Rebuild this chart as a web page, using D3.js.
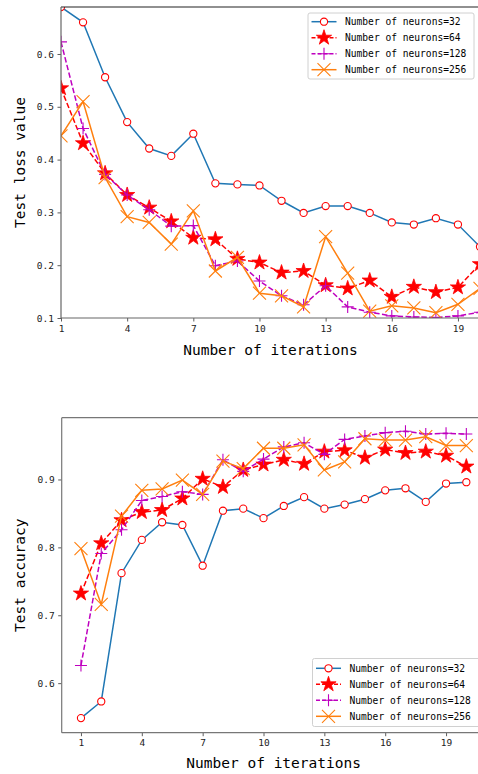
<!DOCTYPE html>
<html>
<head>
<meta charset="utf-8">
<script src="https://cdn.jsdelivr.net/npm/d3@7"></script>
<style>
html,body{margin:0;padding:0;background:#fff;}
svg{display:block;}
</style>
</head>
<body>
<svg id="chart" width="478" height="774"></svg>
<script>
// ---------------- DATA ----------------
const iterations = d3.range(1, 21);
const seriesNames = ["Number of neurons=32", "Number of neurons=64", "Number of neurons=128", "Number of neurons=256"];
const xTickValues = [1, 4, 7, 10, 13, 16, 19];

const loss32  = [0.689,0.660,0.556,0.471,0.421,0.407,0.449,0.355,0.353,0.351,0.322,0.299,0.312,0.312,0.299,0.281,0.277,0.289,0.277,0.235];
const loss64  = [0.535,0.431,0.374,0.333,0.309,0.283,0.252,0.249,0.212,0.205,0.186,0.189,0.162,0.156,0.171,0.140,0.159,0.149,0.158,0.202];
const loss128 = [0.623,0.459,0.372,0.333,0.305,0.274,0.275,0.199,0.208,0.170,0.142,0.125,0.161,0.121,0.111,0.104,0.102,0.101,0.104,0.111];
const loss256 = [0.445,0.510,0.366,0.292,0.281,0.240,0.303,0.189,0.215,0.147,0.142,0.121,0.254,0.185,0.113,0.123,0.119,0.110,0.126,0.156];
const lossTicks = [0.1, 0.2, 0.3, 0.4, 0.5, 0.6];

const acc32  = [0.5485,0.573,0.762,0.811,0.837,0.833,0.773,0.854,0.857,0.843,0.861,0.874,0.857,0.863,0.871,0.884,0.887,0.867,0.894,0.896];
const acc64  = [0.732,0.806,0.840,0.852,0.855,0.872,0.901,0.889,0.914,0.922,0.929,0.923,0.941,0.943,0.932,0.944,0.939,0.941,0.935,0.919];
const acc128 = [0.626,0.791,0.826,0.869,0.875,0.882,0.878,0.929,0.912,0.930,0.948,0.954,0.937,0.959,0.964,0.969,0.971,0.967,0.968,0.967];
const acc256 = [0.798,0.716,0.846,0.884,0.886,0.899,0.878,0.927,0.916,0.946,0.946,0.951,0.914,0.926,0.960,0.958,0.958,0.963,0.950,0.950];
const accTicks = [0.6, 0.7, 0.8, 0.9];

// ---------------- STYLES ----------------
const styles = [
  {color:"#1f77b4", dash:null, marker:"circle"},
  {color:"#ff0000", dash:"5.5,2.4", marker:"star"},
  {color:"#bf00bf", dash:"5.5,2.4", marker:"plus"},
  {color:"#ff7f0e", dash:null, marker:"x"}
];
const FONT = "'DejaVu Sans Mono', 'Liberation Mono', monospace";

const svg = d3.select("#chart");

function drawMarker(g, type, cx, cy) {
  if (type === "circle") {
    g.append("circle").attr("cx", cx).attr("cy", cy).attr("r", 3.6)
      .attr("fill", "#fff").attr("stroke", "#ff0000").attr("stroke-width", 1.1);
  } else if (type === "star") {
    const sym = d3.symbol().type(d3.symbolStar).size(72);
    g.append("path").attr("d", sym()).attr("transform", `translate(${cx},${cy})`)
      .attr("fill", "#ff0000").attr("stroke", "#ff0000").attr("stroke-width", 0.8);
  } else if (type === "plus") {
    const s = 6;
    g.append("path").attr("d", `M${cx-s},${cy}H${cx+s}M${cx},${cy-s}V${cy+s}`)
      .attr("stroke", "#bf00bf").attr("stroke-width", 1.1).attr("fill", "none");
  } else if (type === "x") {
    const s = 6.5;
    g.append("path").attr("d", `M${cx-s},${cy-s}L${cx+s},${cy+s}M${cx-s},${cy+s}L${cx+s},${cy-s}`)
      .attr("stroke", "#ff7f0e").attr("stroke-width", 1.1).attr("fill", "none");
  }
}

function drawChart(cfg) {
  const {id, left, right, top, bottom, xDomain, yDomain, series, yTicks, yFormat, yLabel, legend, spineTop, spineOther} = cfg;
  const x = d3.scaleLinear().domain(xDomain).range([left, right]);
  const y = d3.scaleLinear().domain(yDomain).range([bottom, top]);

  const clipId = "clip-" + id;
  svg.append("clipPath").attr("id", clipId)
    .append("rect").attr("x", left).attr("y", top).attr("width", right - left).attr("height", bottom - top);

  const g = svg.append("g");
  const plot = g.append("g").attr("clip-path", `url(#${clipId})`);

  series.forEach((vals, i) => {
    const st = styles[i];
    const line = d3.line().x((d, j) => x(iterations[j])).y(d => y(d));
    plot.append("path").datum(vals).attr("d", line)
      .attr("fill", "none").attr("stroke", st.color).attr("stroke-width", 1.5)
      .attr("stroke-dasharray", st.dash);
    const mg = plot.append("g");
    vals.forEach((v, j) => drawMarker(mg, st.marker, x(iterations[j]), y(v)));
  });

  // axes
  const xAxis = d3.axisBottom(x).tickValues(xTickValues).tickSize(3.5).tickPadding(3.5).tickFormat(d3.format("d"));
  const yAxis = d3.axisLeft(y).tickValues(yTicks).tickSize(3.5).tickPadding(3.5).tickFormat(yFormat);

  const gx = g.append("g").attr("transform", `translate(0,${bottom})`).call(xAxis);
  const gy = g.append("g").attr("transform", `translate(${left},0)`).call(yAxis);
  [gx, gy].forEach(a => {
    a.select(".domain").remove();
    a.selectAll(".tick line").attr("stroke", "#333").attr("stroke-width", 0.8);
    a.selectAll(".tick text").attr("fill", "#222").style("font-family", FONT).style("font-size", "9.5px");
  });

  // spines
  g.append("line").attr("x1", left).attr("x2", right).attr("y1", top).attr("y2", top)
    .attr("stroke", spineTop).attr("stroke-width", 1.2);
  g.append("line").attr("x1", left).attr("x2", right).attr("y1", bottom).attr("y2", bottom)
    .attr("stroke", spineOther).attr("stroke-width", 1.2);
  g.append("line").attr("x1", left).attr("x2", left).attr("y1", top).attr("y2", bottom)
    .attr("stroke", spineOther).attr("stroke-width", 1.2);
  g.append("line").attr("x1", right).attr("x2", right).attr("y1", top).attr("y2", bottom)
    .attr("stroke", spineOther).attr("stroke-width", 1.2);

  // labels
  g.append("text").attr("x", (left + right) / 2).attr("y", cfg.xLabelY)
    .attr("text-anchor", "middle").style("font-family", FONT).style("font-size", "14.5px")
    .attr("fill", "#000").text("Number of iterations");
  g.append("text").attr("transform", `translate(${cfg.yLabelX},${(top + bottom) / 2}) rotate(-90)`)
    .attr("text-anchor", "middle").style("font-family", FONT).style("font-size", "14.5px")
    .attr("fill", "#000").text(yLabel);

  // legend
  const lg = g.append("g");
  lg.append("rect").attr("x", legend.x).attr("y", legend.y).attr("width", legend.w).attr("height", legend.h)
    .attr("rx", 2).attr("fill", "#fff").attr("fill-opacity", 0.85).attr("stroke", "#d0d0d0").attr("stroke-width", 1);
  seriesNames.forEach((name, i) => {
    const st = styles[i];
    const cy = legend.row0 + i * 16;
    lg.append("line").attr("x1", legend.hx).attr("x2", legend.hx + 25).attr("y1", cy).attr("y2", cy)
      .attr("stroke", st.color).attr("stroke-width", 1.5).attr("stroke-dasharray", st.dash ? "4,2" : null);
    drawMarker(lg, st.marker, legend.hx + 12.5, cy);
    lg.append("text").attr("x", legend.hx + 33.5).attr("y", cy).attr("dy", "0.35em")
      .style("font-family", FONT).style("font-size", "9.6px").attr("fill", "#000").text(name);
  });
}

drawChart({
  id: "loss", left: 61, right: 480, top: 7, bottom: 318,
  xDomain: [1, 20], yDomain: [0.1, 0.689],
  series: [loss32, loss64, loss128, loss256],
  yTicks: lossTicks, yFormat: d3.format(".1f"),
  yLabel: "Test loss value", xLabelY: 355, yLabelX: 25,
  spineTop: "#222", spineOther: "#666",
  legend: {x: 308, y: 13, w: 166, h: 66, row0: 21.7, hx: 311.5}
});

drawChart({
  id: "acc", left: 61.7, right: 485.6, top: 417.7, bottom: 732.7,
  xDomain: [0.05, 20.95], yDomain: [0.527, 0.991],
  series: [acc32, acc64, acc128, acc256],
  yTicks: accTicks, yFormat: d3.format(".1f"),
  yLabel: "Test accuracy", xLabelY: 768, yLabelX: 25,
  spineTop: "#777", spineOther: "#777",
  legend: {x: 312.5, y: 658.5, w: 170, h: 68, row0: 668.3, hx: 316}
});
</script>
</body>
</html>
